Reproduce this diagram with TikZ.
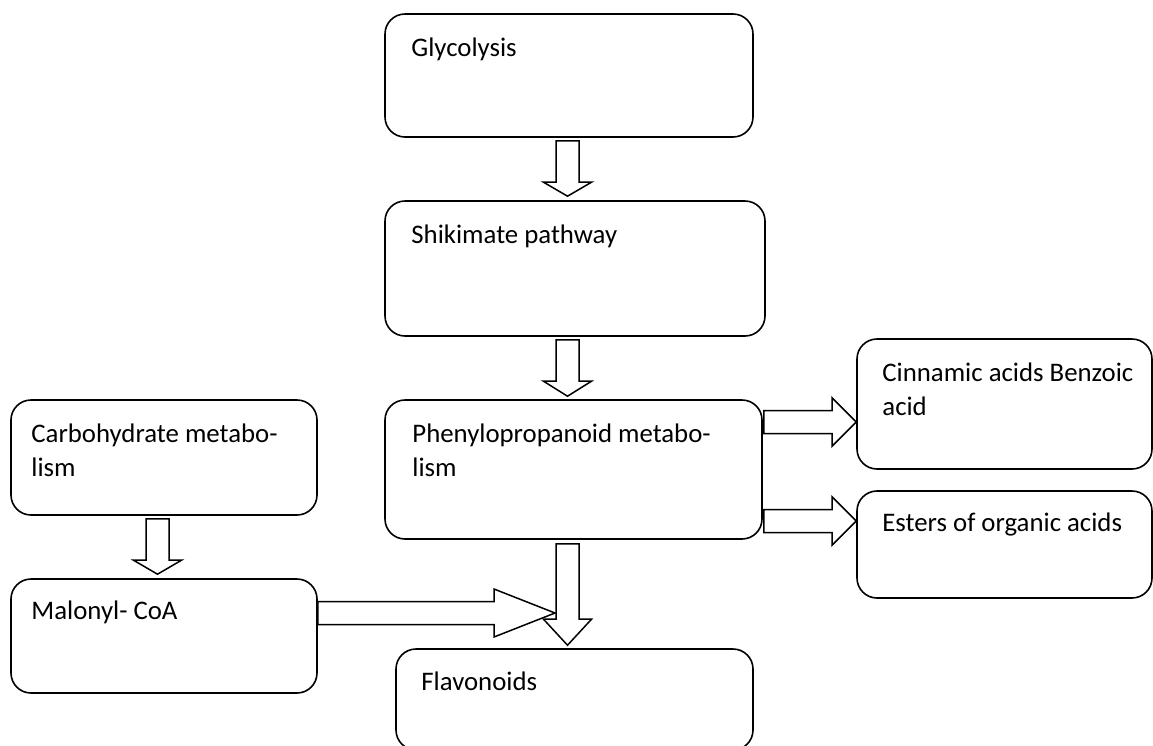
\documentclass[tikz,border=0pt]{standalone}
\usepackage{fontspec}
\setmainfont{Carlito}
\usetikzlibrary{calc}

\newcommand{\toplines}[1]{\begin{tabular}[t]{@{}l@{}}#1\end{tabular}}

\tikzset{
  stage/.style={draw, line width=1.6pt, rounded corners=20pt, inner sep=0pt},
  caption/.style={anchor=base west, inner sep=0pt,
    font=\fontsize{26.8}{34.5}\selectfont},
  % hollow block arrow, #1 = length of the head
  fat/.style={line width=1.5pt, to path={
    let \p1=(\tikztostart), \p2=(\tikztotarget),
        \n1={atan2(\y2-\y1,\x2-\x1)}, \n2={veclen(\x2-\x1,\y2-\y1)} in
    ($(\p1)+(\n1+90:11.5pt)$)
    -- ($(\p1)+(\n1:{(\n2-#1)*1pt})+(\n1+90:11.5pt)$)
    -- ($(\p1)+(\n1:{(\n2-#1)*1pt})+(\n1+90:24pt)$)
    -- (\p2)
    -- ($(\p1)+(\n1:{(\n2-#1)*1pt})+(\n1-90:24pt)$)
    -- ($(\p1)+(\n1:{(\n2-#1)*1pt})+(\n1-90:11.5pt)$)
    -- ($(\p1)+(\n1-90:11.5pt)$) -- cycle}}
}

\begin{document}
\begin{tikzpicture}[x=1pt, y=-1pt]
\useasboundingbox (0,0) rectangle (1153,745);
\clip (0,0) rectangle (1153,745);

% main chain
\node[stage, minimum width=368pt, minimum height=123pt] (glyc) at (569,75.5) {};
\node[caption] (glyc-txt) at ($(glyc.north west)+(27,43)$) {Glycolysis};

\node[stage, minimum width=380pt, minimum height=135pt] (shik) at (575,268.5) {};
\node[caption] (shik-txt) at ($(shik.north west)+(27,43)$) {Shikimate pathway};

\node[stage, minimum width=377pt, minimum height=139pt] (phen) at (573.5,469.5) {};
\node[caption] (phen-txt) at ($(phen.north west)+(28,43)$) {\toplines{Phenylopropanoid metabo-\\lism}};

\node[stage, minimum width=357pt, minimum height=101pt] (flav) at (574.5,699.5) {};
\node[caption] (flav-txt) at ($(flav.north west)+(26,42)$) {Flavonoids};

% side products
\node[stage, minimum width=295pt, minimum height=130pt] (cinn) at (1004.5,404) {};
\node[caption] (cinn-txt) at ($(cinn.north west)+(26,43)$) {\toplines{Cinnamic acids Benzoic\\acid}};

\node[stage, minimum width=295pt, minimum height=107pt] (est) at (1004.5,544.5) {};
\node[caption] (est-txt) at ($(est.north west)+(26,41)$) {Esters of organic acids};

% left branch
\node[stage, minimum width=306pt, minimum height=115pt] (carb) at (164,457.5) {};
\node[caption] (carb-txt) at ($(carb.north west)+(21,43)$) {\toplines{Carbohydrate metabo-\\lism}};

\node[stage, minimum width=306pt, minimum height=114pt] (mal) at (164,636) {};
\node[caption] (mal-txt) at ($(mal.north west)+(21,41)$) {Malonyl- CoA};

% block arrows
\draw[fat=14] ($(glyc.south)+(-1.5,3)$) to ($(glyc.south |- shik.north)+(-1.5,-4)$);
\draw[fat=15] ($(glyc.south |- shik.south)+(-1.5,3)$) to ($(glyc.south |- phen.north)+(-1.5,-3)$);
\draw[fat=26] ($(glyc.south |- phen.south)+(-1.5,4)$) to ($(glyc.south |- flav.north)+(-1.5,-3)$);
\draw[fat=14] ($(carb.south)+(-6.5,3)$) to ($(carb.south |- mal.north)+(-6.5,-4)$);
\draw[fat=61] ($(mal.east)+(0,-23)$) to ($(mal.east -| glyc.south)+(-14,-23)$);
\draw[fat=24] ($(phen.east)+(1,-47.5)$) to ($(phen.east -| cinn.west)+(0,-47.5)$);
\draw[fat=24] ($(phen.east)+(1,51.5)$) to ($(phen.east -| est.west)+(0,51.5)$);
\end{tikzpicture}
\end{document}
